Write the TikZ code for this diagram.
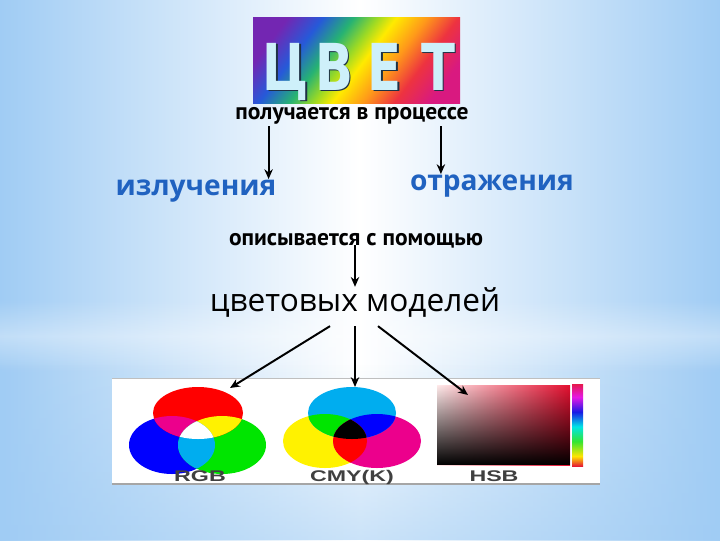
\documentclass[tikz,border=0pt]{standalone}
\usepackage{fontspec}
\setmainfont{PT Sans}
\newfontfamily\headfont[FakeStretch=0.77]{DejaVu Sans}
\newfontfamily\wordfont{Open Sans}
\newfontfamily\labelfont[FakeStretch=1.5]{Liberation Sans}
\usetikzlibrary{arrows.meta,calc,fadings}

\definecolor{bgblue}{RGB}{160,204,244}
\definecolor{wordblue}{RGB}{32,98,192}
\definecolor{letterfill}{RGB}{206,240,250}
\definecolor{lettershade}{RGB}{30,50,70}
\definecolor{labelgray}{RGB}{64,64,64}
\definecolor{hsbred}{RGB}{228,16,48}

\pgfdeclarehorizontalshading{rainbow}{100bp}{rgb(0bp)=(0.45,0.15,0.70);
  rgb(24bp)=(0.45,0.15,0.70); rgb(33bp)=(0.15,0.35,0.85);
  rgb(41bp)=(0.15,0.70,0.45); rgb(47bp)=(0.60,0.85,0.15);
  rgb(52bp)=(1,0.92,0); rgb(60bp)=(1,0.60,0.10);
  rgb(68bp)=(0.93,0.20,0.25); rgb(77bp)=(0.85,0.10,0.50);
  rgb(100bp)=(0.85,0.10,0.50)}
\pgfdeclareverticalshading{huebar}{100bp}{rgb(0bp)=(0.9,0.1,0.2);
  rgb(25bp)=(0.9,0.1,0.2); rgb(31bp)=(1,0.9,0); rgb(40bp)=(0.2,0.9,0.2);
  rgb(49bp)=(0,0.9,0.9); rgb(58bp)=(0.1,0.1,0.9); rgb(67bp)=(0.9,0.1,0.9);
  rgb(75bp)=(0.9,0.1,0.3); rgb(100bp)=(0.9,0.1,0.3)}
\tikzfading[name=hsbfade, top color=transparent!100, bottom color=transparent!0]
\tikzfading[name=bandfade, top color=transparent!100, bottom color=transparent!100,
    middle color=transparent!65]
\tikzfading[name=lowfade, top color=transparent!100, bottom color=transparent!45]

\tikzstyle{letter} = [anchor=base, inner sep=0, text=letterfill,
    font=\headfont\bfseries\fontsize{46}{46}\selectfont]
\tikzstyle{lettershadow} = [anchor=base, inner sep=0, text=lettershade,
    font=\headfont\bfseries\fontsize{46}{46}\selectfont]
\tikzstyle{phrase} = [anchor=base, inner sep=0,
    font=\bfseries\fontsize{16.7}{16.7}\selectfont]
\tikzstyle{word} = [anchor=base, inner sep=0, text=wordblue,
    font=\wordfont\bfseries\fontsize{20}{20}\selectfont]
\tikzstyle{bigword} = [anchor=base, inner sep=0,
    font=\wordfont\fontsize{22.5}{22.5}\selectfont]
\tikzstyle{model} = [anchor=base, inner sep=0, text=labelgray,
    font=\labelfont\bfseries\fontsize{11}{11}\selectfont]
\tikzstyle{arrow} = [draw, line width=1.4pt, -{Stealth[length=7pt,width=6pt]}]

\begin{document}
\begin{tikzpicture}[x=0.025cm, y=-0.025cm]
	\useasboundingbox (0,0) rectangle (720,540);
	% background
	\shade [left color=bgblue, right color=bgblue, middle color=white] (0,0) rectangle (720,540);
	\fill [white, path fading=bandfade] (0,300) rectangle (720,372);
	\fill [bgblue, path fading=lowfade] (0,364) rectangle (720,540);
	%
	% title
	\shade [shading=rainbow, shading angle=-37] (253,17) rectangle (460,103);
	\node [lettershadow] (tcs) at (287.5,91.5) {Ц};
	\node [lettershadow] (tvs) at (335.5,91.5) {В};
	\node [lettershadow] (tes) at (386.5,91.5) {Е};
	\node [lettershadow] (tts) at (439.5,91.5) {Т};
	\node [letter] (tc) at (286,90) {Ц};
	\node [letter] (tv) at (334,90) {В};
	\node [letter] (te) at (385,90) {Е};
	\node [letter] (tt) at (438,90) {Т};
	%
	\node [phrase] (proc) at (352,119) {получается в процессе};
	\node [word] (izl) at (196,195) {излучения};
	\node [word] (otr) at (492,190) {отражения};
	\node [phrase] (opis) at (356,245) {описывается с помощью};
	\node [bigword] (models) at (355,311) {цветовых моделей};
	%
	\coordinate (s1) at ($(izl.north east)+(-8,0)$);
	\coordinate (s2) at ($(otr.north west)+(31,0)$);
	\draw [arrow, shorten <=0.5mm] (proc.south -| s1) -- (s1);
	\draw [arrow, shorten <=0.5mm] (proc.south -| s2) -- (s2);
	\draw [arrow] (opis.base -| models.north) -- (models.north);
	%
	% panel with the three models
	\fill [white] (112,378) rectangle (600,484);
	\draw [gray!50] (112,378) -- (600,378);
	\draw [gray!70, line width=1pt] (112,484) -- (600,484);
	%
	% RGB
	\fill [blue] (172,445) ellipse [x radius=43, y radius=29];
	\fill [green!90!black] (222,445) ellipse [x radius=44, y radius=29];
	\fill [red] (198,413) ellipse [x radius=45, y radius=26];
	\begin{scope}
		\clip (198,413) ellipse [x radius=45, y radius=26];
		\fill [magenta] (172,445) ellipse [x radius=43, y radius=29];
		\fill [yellow] (222,445) ellipse [x radius=44, y radius=29];
	\end{scope}
	\begin{scope}
		\clip (172,445) ellipse [x radius=43, y radius=29];
		\fill [cyan] (222,445) ellipse [x radius=44, y radius=29];
		\clip (222,445) ellipse [x radius=44, y radius=29];
		\fill [white] (198,413) ellipse [x radius=45, y radius=26];
	\end{scope}
	%
	% CMY
	\fill [yellow] (325,441) ellipse [x radius=42, y radius=27];
	\fill [magenta] (377,441) ellipse [x radius=44, y radius=27];
	\fill [cyan] (352,413) ellipse [x radius=44, y radius=26];
	\begin{scope}
		\clip (352,413) ellipse [x radius=44, y radius=26];
		\fill [green!90!black] (325,441) ellipse [x radius=42, y radius=27];
		\fill [blue] (377,441) ellipse [x radius=44, y radius=27];
	\end{scope}
	\begin{scope}
		\clip (325,441) ellipse [x radius=42, y radius=27];
		\fill [red] (377,441) ellipse [x radius=44, y radius=27];
		\clip (377,441) ellipse [x radius=44, y radius=27];
		\fill [black] (352,413) ellipse [x radius=44, y radius=26];
	\end{scope}
	%
	% HSB
	\shade [left color=white!92!red, right color=hsbred] (437,385) rectangle (570,465);
	\fill [black, path fading=hsbfade] (437,385) rectangle (570,465);
	\shade [shading=huebar] (572,384) rectangle (583,466);
	%
	\node [model] (rgb) at (200,481) {RGB};
	\node [model] (cmy) at (352,481) {CMY(K)};
	\node [model] (hsb) at (494,481) {HSB};
	%
	\coordinate (rgbtip) at (230,388);
	\coordinate (cmytip) at (355,387);
	\coordinate (hsbtip) at (468,395);
	\draw [arrow] ($(models.south)+(-25,9)$) -- (rgbtip);
	\draw [arrow] ($(models.south)+(0,9)$) -- (cmytip);
	\draw [arrow] ($(models.south)+(23,9)$) -- (hsbtip);
\end{tikzpicture}
\end{document}
